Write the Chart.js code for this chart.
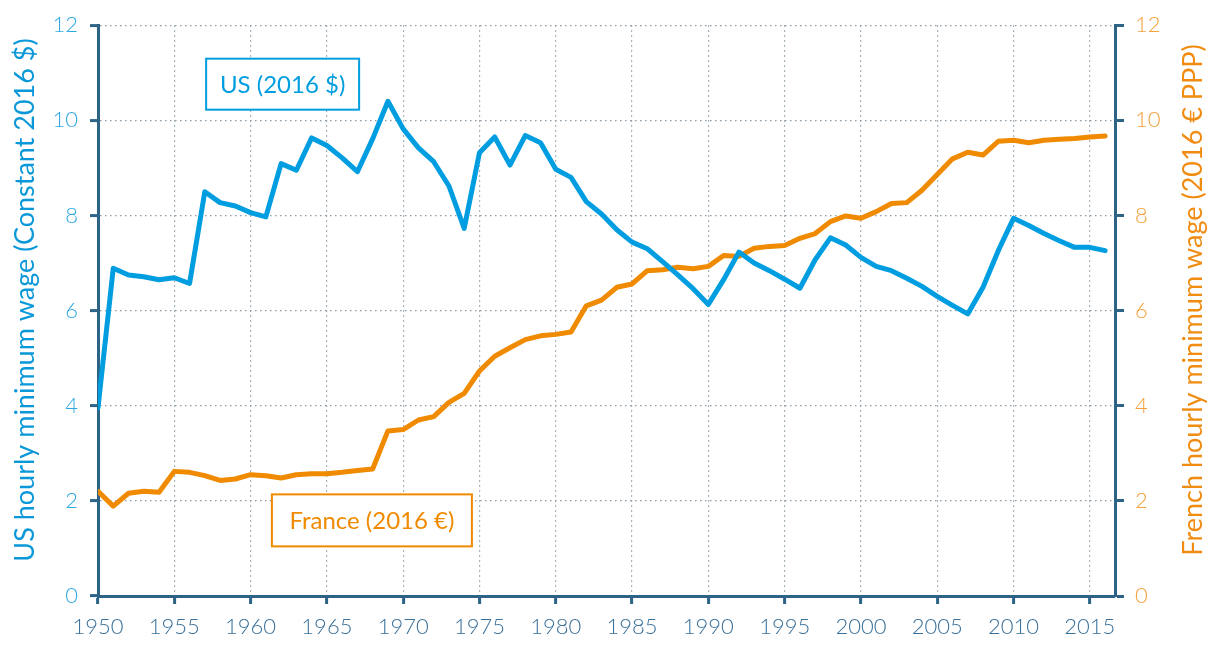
<!DOCTYPE html>
<html lang="en">
<head>
<meta charset="utf-8">
<title>Minimum wage: US vs France</title>
<script src="https://cdn.jsdelivr.net/npm/chart.js"></script>
<style>
  html, body { margin: 0; padding: 0; background: #fff; }
  #wrap { width: 1216px; height: 646px; }
</style>
</head>
<body>
<div id="wrap"><canvas id="wageChart" width="1216" height="646"></canvas></div>
<script>
// years 1950..2016
const years = [
  1950, 1951, 1952, 1953, 1954, 1955, 1956, 1957, 1958, 1959,
  1960, 1961, 1962, 1963, 1964, 1965, 1966, 1967, 1968, 1969,
  1970, 1971, 1972, 1973, 1974, 1975, 1976, 1977, 1978, 1979,
  1980, 1981, 1982, 1983, 1984, 1985, 1986, 1987, 1988, 1989,
  1990, 1991, 1992, 1993, 1994, 1995, 1996, 1997, 1998, 1999,
  2000, 2001, 2002, 2003, 2004, 2005, 2006, 2007, 2008, 2009,
  2010, 2011, 2012, 2013, 2014, 2015, 2016
];

// US hourly minimum wage, constant 2016 $
const usWage = [
  3.96, 6.89, 6.75, 6.71, 6.65, 6.69, 6.57, 8.50, 8.27, 8.20,
  8.06, 7.97, 9.09, 8.95, 9.63, 9.47, 9.21, 8.92, 9.61, 10.40,
  9.82, 9.42, 9.13, 8.62, 7.73, 9.32, 9.65, 9.06, 9.68, 9.53,
  8.97, 8.80, 8.29, 8.03, 7.70, 7.44, 7.30, 7.03, 6.75, 6.46,
  6.13, 6.65, 7.23, 7.00, 6.84, 6.66, 6.47, 7.07, 7.53, 7.38,
  7.12, 6.93, 6.84, 6.68, 6.51, 6.30, 6.11, 5.93, 6.49, 7.26,
  7.94, 7.79, 7.62, 7.47, 7.33, 7.33, 7.26
];

// French hourly minimum wage, 2016 € PPP
const frWage = [
  2.20, 1.89, 2.16, 2.20, 2.18, 2.62, 2.60, 2.53, 2.43, 2.46,
  2.55, 2.53, 2.48, 2.55, 2.57, 2.57, 2.60, 2.64, 2.67, 3.47,
  3.50, 3.70, 3.77, 4.07, 4.26, 4.73, 5.04, 5.22, 5.39, 5.47,
  5.50, 5.55, 6.10, 6.22, 6.49, 6.56, 6.84, 6.86, 6.91, 6.88,
  6.93, 7.16, 7.14, 7.31, 7.35, 7.37, 7.52, 7.62, 7.87, 7.99,
  7.94, 8.08, 8.25, 8.27, 8.53, 8.86, 9.19, 9.33, 9.27, 9.56,
  9.58, 9.53, 9.58, 9.60, 9.62, 9.65, 9.67
];

const yTicks = [0, 2, 4, 6, 8, 10, 12];

const BLUE = '#009ee0';
const ORANGE = '#f08a00';
const AXIS = '#2d6386';
const GRID = '#8d9ba6';
const FONT = 'Lato, "Open Sans", sans-serif';

// labelled boxes, anchored in data space (year, value)
const seriesLabels = [
  { text: 'US (2016 $)', year: 1962.1, value: 10.76, w: 153, h: 51, color: BLUE },
  { text: 'France (2016 €)', year: 1967.95, value: 1.59, w: 200, h: 52, color: ORANGE }
];

const toPoints = (vals) => vals.map((v, i) => ({ x: years[i], y: v }));

const decorations = {
  id: 'decorations',
  afterDatasetsDraw(chart) {
    const { ctx, scales } = chart;
    ctx.save();
    // boxed series labels
    ctx.font = '400 24px ' + FONT;
    ctx.textAlign = 'center';
    ctx.textBaseline = 'middle';
    seriesLabels.forEach(l => {
      const cx = scales.x.getPixelForValue(l.year);
      const cy = scales.y.getPixelForValue(l.value);
      ctx.fillStyle = '#fff';
      ctx.fillRect(cx - l.w / 2, cy - l.h / 2, l.w, l.h);
      ctx.strokeStyle = l.color;
      ctx.lineWidth = 2;
      ctx.strokeRect(cx - l.w / 2, cy - l.h / 2, l.w, l.h);
      ctx.fillStyle = l.color;
      ctx.fillText(l.text, cx, cy + 1);
    });
    // axis titles, both reading bottom to top
    ctx.font = '400 27px ' + FONT;
    ctx.fillStyle = '#0a98d8';
    ctx.translate(25, 300);
    ctx.rotate(-Math.PI / 2);
    ctx.fillText('US hourly minimum wage (Constant 2016 $)', 0, 0);
    ctx.setTransform(1, 0, 0, 1, 0, 0);
    ctx.fillStyle = '#f08c12';
    ctx.translate(1193, 300);
    ctx.rotate(-Math.PI / 2);
    ctx.fillText('French hourly minimum wage (2016 € PPP)', 0, 0);
    ctx.restore();
  }
};

new Chart(document.getElementById('wageChart'), {
  type: 'line',
  data: {
    datasets: [{
      label: 'US',
      data: toPoints(usWage),
      yAxisID: 'y',
      borderColor: BLUE,
      borderWidth: 5,
      pointRadius: 0,
      tension: 0,
      borderJoinStyle: 'round',
      borderCapStyle: 'round'
    }, {
      label: 'France',
      data: toPoints(frWage),
      yAxisID: 'y2',
      borderColor: ORANGE,
      borderWidth: 5,
      pointRadius: 0,
      tension: 0,
      borderJoinStyle: 'round',
      borderCapStyle: 'round'
    }]
  },
  options: {
    responsive: false,
    animation: false,
    layout: { padding: { top: 22, left: 0, right: 0, bottom: 0 } },
    plugins: { legend: { display: false }, tooltip: { enabled: false } },
    scales: {
      x: {
        type: 'linear',
        min: 1950,
        max: 2016.65,
        afterFit: s => { s.height = 50; },
        ticks: {
          stepSize: 5,
          includeBounds: false,
          padding: 10,
          color: '#3a719a',
          font: { family: FONT, size: 22, weight: 300 },
          callback: v => String(v),
          maxRotation: 0
        },
        grid: {
          color: GRID,
          lineWidth: 1.2,
          tickLength: 8,
          tickWidth: 3,
          tickColor: AXIS
        },
        border: { color: AXIS, width: 3, dash: [1.5, 3.5] }
      },
      y: {
        position: 'left',
        min: 0,
        max: 12,
        afterFit: s => { s.width = 98; },
        afterBuildTicks: s => { s.ticks = yTicks.map(v => ({ value: v })); },
        ticks: {
          padding: 12,
          color: '#2ea8e2',
          font: { family: FONT, size: 22, weight: 300 }
        },
        grid: {
          color: GRID,
          lineWidth: 1.2,
          tickLength: 8,
          tickWidth: 3,
          tickColor: AXIS
        },
        border: { color: AXIS, width: 3, dash: [1.5, 3.5] }
      },
      y2: {
        position: 'right',
        min: 0,
        max: 12,
        afterFit: s => { s.width = 101; },
        afterBuildTicks: s => { s.ticks = yTicks.map(v => ({ value: v })); },
        ticks: {
          padding: 11,
          color: '#f5a03a',
          font: { family: FONT, size: 22, weight: 300 }
        },
        grid: {
          drawOnChartArea: false,
          tickLength: 9,
          tickWidth: 3,
          tickColor: AXIS
        },
        border: { color: AXIS, width: 3 }
      }
    }
  },
  plugins: [decorations]
});
</script>
</body>
</html>
